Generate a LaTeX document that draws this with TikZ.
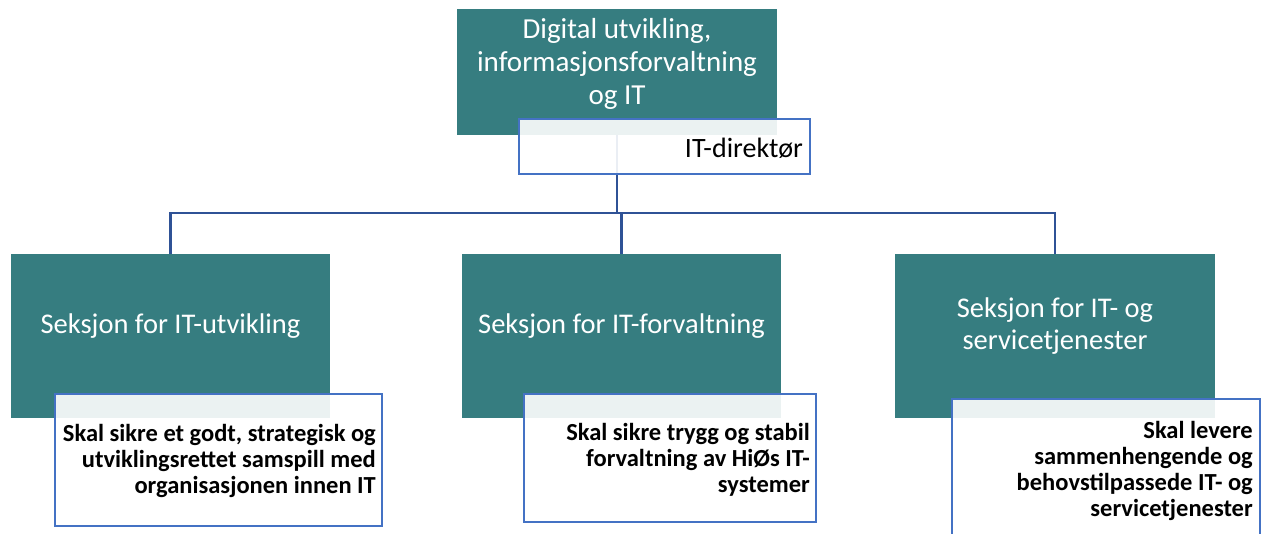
\documentclass[tikz,border=0pt]{standalone}
\usepackage{fontspec}
\setmainfont{Carlito}
\definecolor{teal1}{RGB}{54,125,128}
\definecolor{bord}{RGB}{68,114,196}
\definecolor{conn}{RGB}{47,82,150}
\tikzset{
  tealbox/.style={rectangle, fill=teal1, draw=none, inner sep=0pt},
  whitebox/.style={rectangle, fill=white, fill opacity=0.9, draw=bord, line width=2.2pt, inner sep=0pt},
  connline/.style={draw=conn, line width=2.2pt},
  toptext/.style={text=white, align=center, font=\fontsize{29}{33}\selectfont, inner sep=0pt},
  titletext/.style={text=white, align=center, font=\fontsize{28.5}{32}\selectfont, inner sep=0pt},
  desctext/.style={text=black, align=right, font=\bfseries\fontsize{24.5}{26.3}\selectfont, inner sep=0pt, anchor=east},
}
\begin{document}
\begin{tikzpicture}[x=1pt,y=-1pt]
\useasboundingbox (0,0) rectangle (1266,533);
\clip (0,0) rectangle (1266,533);
\coordinate (bus) at (0,213);
% boxes
\node[tealbox, minimum width=320pt, minimum height=126pt] (top) at (617,72) {};
\node[tealbox, minimum width=319pt, minimum height=164pt] (s1) at (170.5,336) {};
\node[tealbox, minimum width=319pt, minimum height=164pt] (s2) at (621.5,336) {};
\node[tealbox, minimum width=320pt, minimum height=164pt] (s3) at (1055,336) {};
% connectors
\draw[connline] (top.south) -- (top.south |- bus) -| (s1.north);
\draw[connline] (top.south |- bus) -| (s2.north);
\draw[connline] (top.south |- bus) -| (s3.north);
% white boxes
\node[whitebox, minimum width=291pt, minimum height=55pt] (dir) at (664.5,146.5) {};
\node[whitebox, minimum width=327pt, minimum height=132pt] (d1) at (218.5,460) {};
\node[whitebox, minimum width=292pt, minimum height=128pt] (d2) at (670,458) {};
\node[whitebox, minimum width=308pt, minimum height=161pt] (d3) at (1106,479.5) {};
% texts
\node[toptext] (tt) at (617,64) {Digital utvikling,\\informasjonsforvaltning\\og IT};
\node[text=black, font=\fontsize{28}{30}\selectfont, inner sep=0pt, anchor=east] (dirt) at (803,148) {IT-direktør};
\node[titletext] (t1) at (170.5,326) {Seksjon for IT-utvikling};
\node[titletext] (t2) at (621.5,326) {Seksjon for IT-forvaltning};
\node[titletext] (t3) at (1055,326) {Seksjon for IT- og\\servicetjenester};
\node[desctext] (x1) at (376,461) {Skal sikre et godt, strategisk og\\utviklingsrettet samspill med\\organisasjonen innen IT};
\node[desctext] (x2) at (810,460) {Skal sikre trygg og stabil\\forvaltning av HiØs IT-\\systemer};
\node[desctext] (x3) at (1253,471) {Skal levere\\sammenhengende og\\behovstilpassede IT- og\\servicetjenester};
\end{tikzpicture}
\end{document}
